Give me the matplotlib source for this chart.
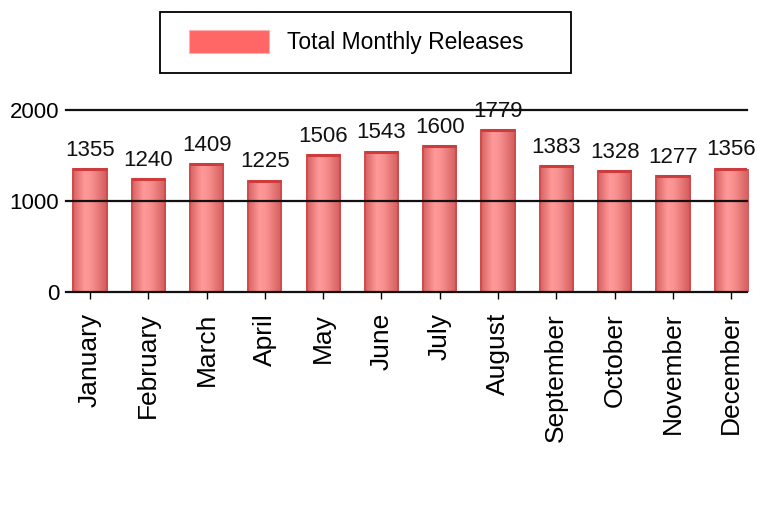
import numpy as np
import matplotlib
matplotlib.use("Agg")
import matplotlib.pyplot as plt
from matplotlib.patches import Rectangle, Patch
from matplotlib.colors import LinearSegmentedColormap

months = ["January", "February", "March", "April", "May", "June", "July",
          "August", "September", "October", "November", "December"]
releases = [1355, 1240, 1409, 1225, 1506, 1543, 1600, 1779, 1383, 1328, 1277, 1356]
series_name = "Total Monthly Releases"
yticks = [0, 1000, 2000]

W, H = 757, 509
fig = plt.figure(figsize=(W / 100, H / 100), dpi=100)
ax = fig.add_axes([66 / W, 1 - 292 / H, (747 - 66) / W, (292 - 110) / H])

fam = ["Liberation Sans", "DejaVu Sans"]

x = np.arange(len(months))
bw = 0.57
bars = ax.bar(x, releases, width=bw, color="#f08080", edgecolor="#d04848",
              linewidth=1.2, zorder=2)

cmap = LinearSegmentedColormap.from_list(
    "cyl", [(0.0, "#d86262"), (0.35, "#ff9a9a"), (0.55, "#f99090"), (1.0, "#d35c5c")])
grad = np.linspace(0, 1, 64).reshape(1, -1)
for b in bars:
    bx, by = b.get_x(), b.get_y()
    im = ax.imshow(grad, cmap=cmap, aspect="auto", zorder=2.5,
                   extent=[bx, bx + b.get_width(), by, by + b.get_height()],
                   interpolation="bicubic")
    im.set_clip_path(b)
    ax.add_patch(Rectangle((bx, by), b.get_width(), b.get_height(), fill=False,
                           edgecolor="#d04848", linewidth=1.2, zorder=2.6))
    # darker top band
    ax.plot([bx, bx + b.get_width()], [by + b.get_height()] * 2,
            color="#cc3c3c", linewidth=2.2, solid_capstyle="butt", zorder=2.7)

for xi, v in zip(x, releases):
    ax.annotate(str(v), (xi, v), xytext=(0, 9.5), textcoords="offset points",
                ha="center", va="baseline", fontsize=16, family=fam,
                color="#111111", zorder=4)

ax.set_xlim(-0.41, 11.27)
ax.set_ylim(0, 2000)
for yv in yticks:
    ax.axhline(yv, color="#111111", linewidth=1.6, zorder=3, clip_on=False)

for s in ax.spines.values():
    s.set_visible(False)
ax.patch.set_visible(False)

ax.set_yticks(yticks)
ax.set_yticklabels([str(t) for t in yticks], fontsize=16, family=fam)
ax.tick_params(axis="y", length=0, pad=5)
ax.set_xticks(x)
ax.set_xticklabels(months, rotation=90, fontsize=19, family=fam, va="top")
ax.tick_params(axis="x", length=5, width=1, color="black", pad=10)

# legend
fig.add_artist(Rectangle((160 / W, 1 - 73 / H), (571 - 160) / W, (73 - 12) / H,
                         transform=fig.transFigure, fill=False,
                         edgecolor="black", linewidth=1.3))
handle = Patch(facecolor="#ff6666", edgecolor="#ffb0b0", linewidth=0.8)
fs = 16.5
em = fs * 100 / 72
fig.legend([handle], [series_name], loc="center",
           bbox_to_anchor=(356 / W, 1 - 42 / H), frameon=False,
           prop={"family": fam, "size": fs}, handlelength=80 / em,
           handleheight=27 / em, handletextpad=18 / em, borderpad=0)

fig.savefig("out.png", dpi=100, facecolor="white")
